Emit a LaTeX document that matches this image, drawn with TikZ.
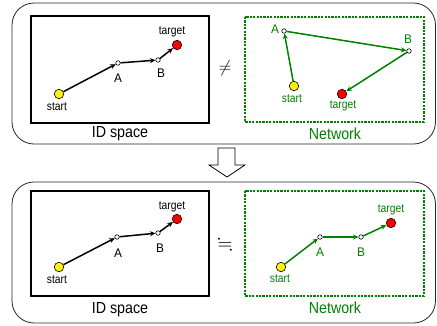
\documentclass[tikz,border=0pt]{standalone}
\usepackage{amssymb}
\usepackage{fontspec}
\setmainfont{Liberation Sans}
\usetikzlibrary{arrows.meta}
\definecolor{netgreen}{RGB}{0,128,0}
\tikzset{
  panel/.style={draw=black!85, line width=0.8pt, rounded corners=22pt},
  idbox/.style={draw=black, line width=1.6pt},
  netbox/.style={draw=netgreen, line width=1.6pt, dash pattern=on 2.2pt off 1.2pt},
  hop/.style={circle, draw=black, fill=white, line width=0.6pt, minimum size=4.5pt, inner sep=0pt},
  src/.style={circle, draw=black, fill=yellow, line width=0.6pt, minimum size=9.5pt, inner sep=0pt},
  dst/.style={circle, draw=black, fill=red, line width=0.6pt, minimum size=9.5pt, inner sep=0pt},
  lbl/.style={font=\fontsize{12}{14}\selectfont, inner sep=0pt, xscale=0.86, transform shape},
  hoplbl/.style={font=\fontsize{12.5}{14}\selectfont, inner sep=0pt, xscale=0.95, transform shape},
  caption/.style={font=\fontsize{16}{18}\selectfont, inner sep=0pt, xscale=0.89, transform shape},
  relsym/.style={font=\fontsize{19}{21}\selectfont, inner sep=0pt},
  route/.style={-{Stealth[length=5.5pt,width=5pt]}, line width=1.5pt},
  green/.style={text=netgreen},
}
\begin{document}
\begin{tikzpicture}[x=1pt,y=-1pt]
\useasboundingbox (0,0) rectangle (437,325);

% ---------- upper panel: greedy route differs ----------
\draw[panel] (12,3) rectangle (435.5,144);
\draw[idbox] (31,16) rectangle (209,123);
\node[caption] (id1) at (120,134) {ID space};

\node[src] (s1) at (59,94) {};
\node[hop] (a1) at (118,63) {};
\node[hop] (b1) at (158,60) {};
\node[dst] (t1) at (177,45) {};
\node[lbl] (s1l) at (57,107) {start};
\node[hoplbl] (a1l) at (118,78) {A};
\node[hoplbl] (b1l) at (161,73) {B};
\node[lbl] (t1l) at (172,32) {target};
\draw[route] (s1) -- (a1);
\draw[route] (a1) -- (b1);
\draw[route] (b1) -- (t1);

\node[relsym] (neq) at (225,68) {$\neq$};

\draw[netbox] (245,17) rectangle (424,122);
\node[caption, green] (net1) at (335,134) {Network};

\node[src] (s2) at (294,86) {};
\node[hop] (a2) at (284,31) {};
\node[hop] (b2) at (409,51) {};
\node[dst] (t2) at (342,94) {};
\node[lbl, green] (s2l) at (292,99) {start};
\node[hoplbl, green] (a2l) at (275,29) {A};
\node[hoplbl, green] (b2l) at (408,39) {B};
\node[lbl, green] (t2l) at (343,106) {target};
\draw[route, netgreen] (s2) -- (a2);
\draw[route, netgreen] (a2) -- (b2);
\draw[route, netgreen] (b2) -- (t2);

% ---------- block arrow between the panels ----------
\draw[line width=0.8pt, line join=miter, fill=white]
  (218,148) -- (235,148) -- (235,165) -- (245,165) -- (227,177)
  -- (209,165) -- (218,165) -- cycle;

% ---------- lower panel: routes agree ----------
\draw[panel] (12,182) rectangle (435.5,323);
\draw[idbox] (31,191) rectangle (209,296);
\node[caption] (id2) at (120,310) {ID space};

\node[src] (s3) at (59,267) {};
\node[hop] (a3) at (117,237) {};
\node[hop] (b3) at (158,233) {};
\node[dst] (t3) at (177,219) {};
\node[lbl] (s3l) at (57,280) {start};
\node[hoplbl] (a3l) at (118,253) {A};
\node[hoplbl] (b3l) at (160,248) {B};
\node[lbl] (t3l) at (172,207) {target};
\draw[route] (s3) -- (a3);
\draw[route] (a3) -- (b3);
\draw[route] (b3) -- (t3);

\node[relsym] (approx) at (225,245) {$\fallingdotseq$};

\draw[netbox] (245,191) rectangle (424,296);
\node[caption, green] (net2) at (335,308) {Network};

\node[src] (s4) at (281,267) {};
\node[hop] (a4) at (320,237) {};
\node[hop] (b4) at (361,237) {};
\node[dst] (t4) at (391,223) {};
\node[lbl, green] (s4l) at (280,279) {start};
\node[hoplbl, green] (a4l) at (320,252) {A};
\node[hoplbl, green] (b4l) at (361,252) {B};
\node[lbl, green] (t4l) at (391,210) {target};
\draw[route, netgreen] (s4) -- (a4);
\draw[route, netgreen] (a4) -- (b4);
\draw[route, netgreen] (b4) -- (t4);
\end{tikzpicture}
\end{document}
